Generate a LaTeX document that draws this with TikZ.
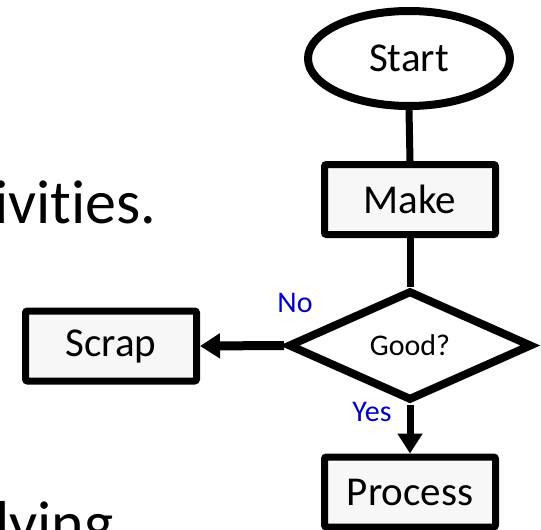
\documentclass[tikz,border=0pt]{standalone}
\usepackage{fontspec}
\setmainfont{Carlito}[Ligatures={NoCommon}]
\usetikzlibrary{shapes.geometric,arrows.meta}

\definecolor{boxfill}{HTML}{F7F7F7}
\definecolor{labelblue}{RGB}{0,0,200}

\tikzset{
  flowline/.style={line width=7pt, black},
  flowarrow/.style={flowline, -{Triangle[length=20pt,width=24pt]}},
  stepbox/.style={draw, line width=7pt, fill=boxfill, rounded corners=2pt,
    minimum width=171pt, minimum height=70pt, inner sep=0pt,
    font=\fontsize{41}{49}\selectfont},
  terminal/.style={draw, ellipse, line width=8pt, fill=white,
    minimum width=202pt, minimum height=95pt, inner sep=0pt,
    font=\fontsize{41}{49}\selectfont},
  decision/.style={draw, diamond, line width=8pt, fill=white,
    minimum width=244pt, minimum height=110pt, inner sep=0pt,
    font=\fontsize{30}{36}\selectfont},
  branchlabel/.style={text=labelblue, inner sep=0pt,
    font=\fontsize{30}{36}\selectfont},
  slidetext/.style={inner sep=0pt, anchor=base west,
    font=\fontsize{62}{74}\selectfont},
}

\begin{document}
\begin{tikzpicture}[x=1pt, y=-1pt]
  \useasboundingbox (0,0) rectangle (541,530);

  % slide body text behind the chart, running off the page edges
  \node[slidetext] (bodyA) at (-6,223) {ivities.};
  \node[slidetext] (bodyB) at (-5,544) {lying};

  % flowchart shapes
  \node[terminal] (start) at (409,58.5) {Start};
  \node[stepbox] (make) at (410,199.5) {Make};
  \node[decision] (good) at (410,345.5) {Good?};
  \node[stepbox] (scrap) at (111,346) {Scrap};
  \node[stepbox] (process) at (410,492) {Process};

  % connectors between the shapes' outer edges
  \draw[flowline] (start.south) -- (make.north);
  \draw[flowline] (make.south) -- (good.north);
  \draw[flowarrow, line width=9pt] (good.west) -- (scrap.east);
  \draw[flowarrow] (good.south) -- (process.north);

  % branch labels
  \node[branchlabel] (nolabel) at (295,303) {No};
  \node[branchlabel] (yeslabel) at (372,412) {Yes};
\end{tikzpicture}
\end{document}
